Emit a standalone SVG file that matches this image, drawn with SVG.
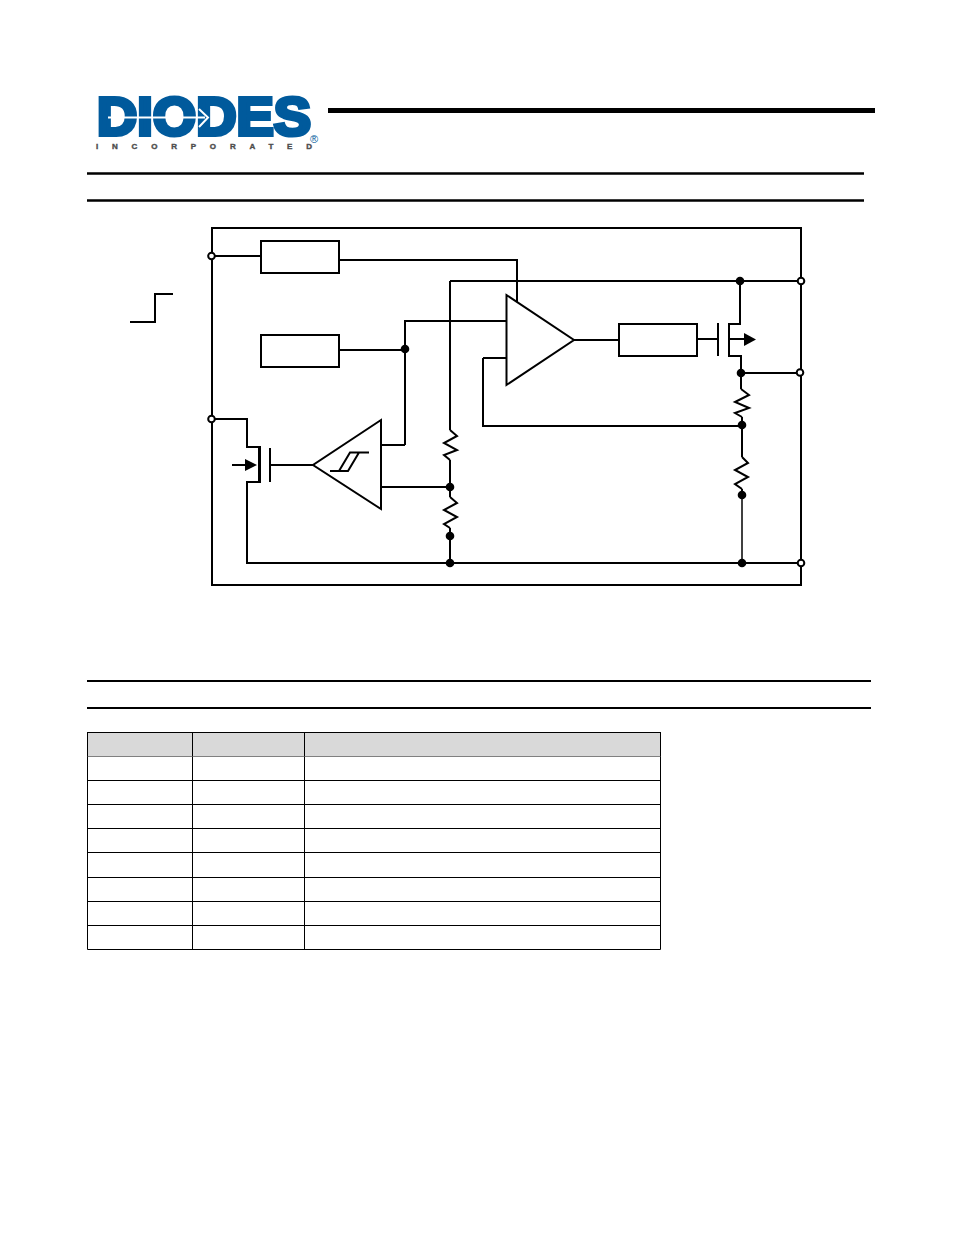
<svg xmlns="http://www.w3.org/2000/svg" width="954" height="1235" viewBox="0 0 954 1235">
<style>
.w{fill:none;stroke:#000;stroke-width:2;stroke-linejoin:miter}
.t{fill:none;stroke:#000;stroke-width:1.500}
.b{fill:#fff;stroke:#000;stroke-width:2}
.d{fill:#000;stroke:none}
.o{fill:#fff;stroke:#000;stroke-width:2}
.r{stroke:#000;fill:none}
.c{fill:#fff;stroke:#000;stroke-width:1}
.h{fill:#d9d9d9;stroke:#000;stroke-width:1}
</style>
<rect width="954" height="1235" fill="#fff"/>
<g id="logo">
<text x="97" y="135" font-family="Liberation Sans, Arial, sans-serif" font-weight="700" font-size="53" fill="#005a9c" stroke="#005a9c" stroke-width="4" textLength="214" lengthAdjust="spacingAndGlyphs">DIODES</text>
<path d="M108 117.500H205M199 109L208 117.500L199 127" fill="none" stroke="#fff" stroke-width="2"/>
<text x="96" y="149" font-family="Liberation Sans, Arial, sans-serif" font-weight="700" font-size="8" fill="#4d4d4d" stroke="#4d4d4d" stroke-width="0.400" textLength="216">INCORPORATED</text>
<text x="310" y="143" font-family="Liberation Sans, Arial, sans-serif" font-size="11" fill="#005a9c">®</text>
</g>
<g id="rules" class="r">
<path d="M328 110.500H875" stroke-width="5"/>
<path d="M87 173.500H864M87 200.500H864" stroke-width="2.500"/>
<path d="M87 681H871M87 708H871" stroke-width="2"/>
</g>
<g id="frame"><rect x="212" y="228" width="589" height="357" class="w"/></g>
<g id="connectors">
<path class="w" d="M212 256H261M339 260H517V305M212 419H247V447H260V482H247V563H801M450 281V430M450 460V497M450 528V563M450 281H801M339 350H405M405 445V321H506M381 445H405M381 487H450M483 358H506M483 358V426H742M574 340H619M697 339H717M740 281V324H729V356H741V373M741 373H800M741 373V389M742 417V457M742 489V495M270 465H313"/>
<path class="t" d="M742 495V563"/>
</g>
<g id="resistors">
<path class="w" d="M450 430L457 436L444 443L457 450L444 455L450 460"/>
<path class="w" d="M450 497L457 503L444 510L457 517L444 524L450 528"/>
<path class="w" d="M741 389L749 395L735 402L749 408L735 413L742 417"/>
<path class="w" d="M742 457L748 463L735 470L748 477L735 484L742 489"/>
</g>
<g id="step-symbol"><path class="w" d="M130 322H155V294H173"/></g>
<g id="buffer-top"><rect x="261" y="241" width="78" height="32" class="b"/></g>
<g id="buffer-mid"><rect x="261" y="335" width="78" height="32" class="b"/></g>
<g id="driver"><rect x="619" y="324" width="78" height="32" class="b"/></g>
<g id="amp"><path class="b" d="M506.500 295L574 340L506.500 385Z"/></g>
<g id="comparator">
<path class="b" d="M381 420L313 465L381 509Z"/>
<path class="w" d="M330 471H348L359 452.500H369M339 471L350 452.500H359"/>
</g>
<g id="nmos-left">
<path class="w" d="M259 447V482M270 448V482M232 465H248"/>
<path class="d" d="M245 459L257 465L245 471Z"/>
</g>
<g id="pmos-right">
<path class="w" d="M718 323V356M729 339H746"/>
<path class="d" d="M744 333L756 339.500L744 346Z"/>
</g>
<g id="dots">
<circle class="d" cx="740" cy="281" r="4.300"/><circle class="d" cx="741" cy="373" r="4.300"/><circle class="d" cx="742" cy="425" r="4.300"/>
<circle class="d" cx="742" cy="495" r="4.300"/><circle class="d" cx="742" cy="563" r="4.300"/><circle class="d" cx="450" cy="563" r="4.300"/>
<circle class="d" cx="450" cy="536" r="4.300"/><circle class="d" cx="450" cy="487" r="4.300"/><circle class="d" cx="405" cy="349" r="4.300"/>
<circle class="o" cx="211.500" cy="256" r="3.300"/><circle class="o" cx="211.500" cy="419" r="3.300"/>
<circle class="o" cx="801" cy="281" r="3.300"/><circle class="o" cx="800" cy="372.500" r="3.300"/><circle class="o" cx="801" cy="563" r="3.300"/>
</g>
<g id="table">
<rect class="h" x="87.500" y="732.500" width="105" height="24"/><rect class="h" x="192.500" y="732.500" width="112" height="24"/><rect class="h" x="304.500" y="732.500" width="356" height="24"/>
<path class="c" d="M87.500 756.500V949.500H660.500V756.500M192.500 756.500V949.500M304.500 756.500V949.500M87.500 780.500H660.500M87.500 804.500H660.500M87.500 828.500H660.500M87.500 852.500H660.500M87.500 877.500H660.500M87.500 901.500H660.500M87.500 925.500H660.500"/>
</g>
</svg>
